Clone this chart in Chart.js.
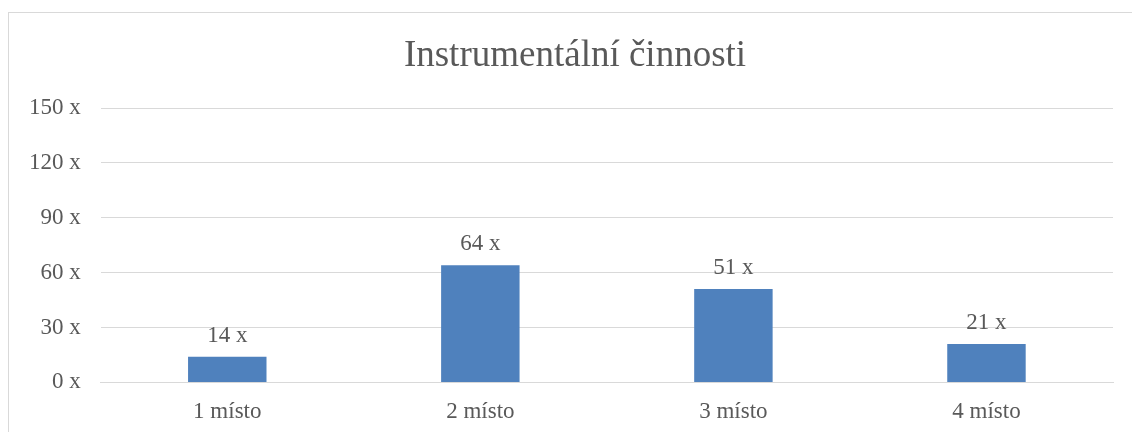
<!DOCTYPE html>
<html lang="cs">
<head>
<meta charset="utf-8">
<title>Instrumentální činnosti</title>
<script src="https://cdn.jsdelivr.net/npm/chart.js@4/dist/chart.umd.min.js"></script>
<style>
    html, body { margin: 0; padding: 0; background: #fff; overflow: hidden; }
    #ramecek {
        position: absolute; left: 8px; top: 12px;
        width: 1140px; height: 440px;
        border: 1px solid #d9d9d9; box-sizing: border-box;
    }
    #obal { position: absolute; left: 0; top: 0; width: 1150px; height: 450px; }
</style>
</head>
<body>
<div id="ramecek"></div>
<div id="obal"><canvas id="graf"></canvas></div>
<script>
// Data grafu
const nadpis = 'Instrumentální činnosti';
const kategorie = ['1 místo', '2 místo', '3 místo', '4 místo'];
const hodnoty = [14, 64, 51, 21];
const osaY = { min: 0, max: 150, krok: 30 };

const PISMO = '"Liberation Serif", "Times New Roman", serif';
const BARVA_TEXTU = '#595959';

// Popisky nad sloupci + nadpis vycentrovany na ramecek grafu
const popiskyPlugin = {
    id: 'popisky',
    afterDatasetsDraw(chart) {
        const ctx = chart.ctx;
        const meta = chart.getDatasetMeta(0);
        ctx.save();
        ctx.fillStyle = BARVA_TEXTU;
        ctx.textAlign = 'center';
        ctx.textBaseline = 'alphabetic';
        ctx.font = '23px ' + PISMO;
        meta.data.forEach((bar, i) => {
            ctx.fillText(hodnoty[i] + ' x', bar.x, bar.y - 15);
        });
        ctx.font = '37px ' + PISMO;
        ctx.textBaseline = 'middle';
        ctx.fillText(nadpis, 575, 56);
        ctx.restore();
    }
};

new Chart(document.getElementById('graf'), {
    type: 'bar',
    data: {
        labels: kategorie,
        datasets: [{
            data: hodnoty,
            backgroundColor: '#4f81bd',
            borderWidth: 0,
            categoryPercentage: 1,
            barPercentage: 0.31
        }]
    },
    options: {
        responsive: true,
        maintainAspectRatio: false,
        animation: false,
        layout: { padding: { left: 9, right: 37, top: 108, bottom: 8 } },
        plugins: {
            legend: { display: false },
            tooltip: { enabled: false },
            title: { display: false }
        },
        scales: {
            x: {
                grid: { display: false, drawTicks: false },
                border: { color: '#d9d9d9' },
                ticks: { color: BARVA_TEXTU, font: { family: PISMO, size: 23 }, padding: 16 }
            },
            y: {
                min: osaY.min,
                max: osaY.max,
                grid: { color: '#d9d9d9', drawTicks: false },
                border: { display: false },
                ticks: {
                    stepSize: osaY.krok,
                    color: BARVA_TEXTU,
                    font: { family: PISMO, size: 23 },
                    padding: 20,
                    callback: v => v + ' x'
                }
            }
        }
    },
    plugins: [popiskyPlugin]
});
</script>
</body>
</html>
